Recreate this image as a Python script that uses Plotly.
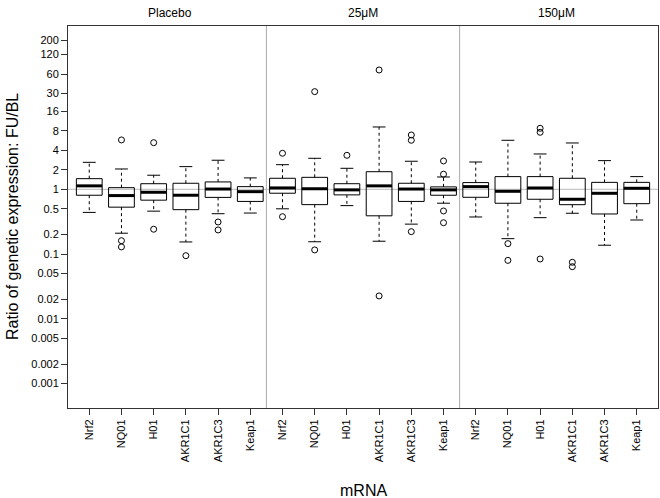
import plotly.graph_objects as go

# ---------------- data ----------------
groups = ["Placebo", "25\u03bcM", "150\u03bcM"]
genes = ["Nrf2", "NQ01", "H01", "AKR1C1", "AKR1C3", "Keap1"]

# Placebo
placebo_lower = [0.44, 0.21, 0.46, 0.154, 0.42, 0.43]
placebo_q1 = [0.81, 0.53, 0.68, 0.485, 0.75, 0.65]
placebo_median = [1.13, 0.80, 0.90, 0.81, 1.01, 0.92]
placebo_q3 = [1.46, 1.06, 1.22, 1.24, 1.30, 1.10]
placebo_upper = [2.61, 2.06, 1.65, 2.24, 2.81, 1.50]
placebo_outliers = [[], [5.78, 0.161, 0.129], [5.25, 0.242], [0.0945], [0.313, 0.236], []]

# 25 uM
low_dose_lower = [0.50, 0.155, 0.56, 0.158, 0.29, 0.61]
low_dose_q1 = [0.87, 0.58, 0.82, 0.39, 0.65, 0.81]
low_dose_median = [1.05, 1.02, 0.98, 1.13, 1.01, 0.98]
low_dose_q3 = [1.48, 1.53, 1.22, 1.87, 1.24, 1.09]
low_dose_upper = [2.40, 3.01, 2.11, 9.17, 2.71, 1.55]
low_dose_outliers = [[3.60, 0.378], [32.2, 0.116], [3.35], [69.5, 0.0226],
                     [6.90, 5.71, 0.222], [2.74, 1.71, 0.463, 0.305]]

# 150 uM
high_dose_lower = [0.374, 0.173, 0.365, 0.427, 0.137, 0.336]
high_dose_q1 = [0.753, 0.609, 0.702, 0.579, 0.416, 0.600]
high_dose_median = [1.10, 0.932, 1.048, 0.702, 0.868, 1.037]
high_dose_q3 = [1.27, 1.57, 1.57, 1.48, 1.28, 1.28]
high_dose_upper = [2.64, 5.71, 3.51, 5.19, 2.77, 1.57]
high_dose_outliers = [[], [0.145, 0.080], [8.75, 7.59, 0.084], [0.0747, 0.0639], [], []]

y_tick_labels = ["200", "120", "60", "30", "16", "8", "4", "2", "1", "0.5", "0.2",
                 "0.1", "0.05", "0.02", "0.01", "0.005", "0.002", "0.001"]

# ---------------- assemble ----------------
stats = [
    (placebo_lower, placebo_q1, placebo_median, placebo_q3, placebo_upper, placebo_outliers),
    (low_dose_lower, low_dose_q1, low_dose_median, low_dose_q3, low_dose_upper, low_dose_outliers),
    (high_dose_lower, high_dose_q1, high_dose_median, high_dose_q3, high_dose_upper, high_dose_outliers),
]

BOX_HALF = 0.4
CAP_HALF = 0.2

box_x, box_y = [], []
med_x, med_y = [], []
wh_x, wh_y = [], []
cap_x, cap_y = [], []
out_x, out_y = [], []
tick_vals, tick_text = [], []

for g, (lo, q1, md, q3, up, outs) in enumerate(stats):
    for j, gene in enumerate(genes):
        x = g * len(genes) + j
        tick_vals.append(x)
        tick_text.append(gene)
        x0, x1 = x - BOX_HALF, x + BOX_HALF
        box_x += [x0, x1, x1, x0, x0, None]
        box_y += [q1[j], q1[j], q3[j], q3[j], q1[j], None]
        med_x += [x0, x1, None]
        med_y += [md[j], md[j], None]
        wh_x += [x, x, None, x, x, None]
        wh_y += [q3[j], up[j], None, q1[j], lo[j], None]
        cap_x += [x - CAP_HALF, x + CAP_HALF, None, x - CAP_HALF, x + CAP_HALF, None]
        cap_y += [up[j], up[j], None, lo[j], lo[j], None]
        for v in outs[j]:
            out_x.append(x)
            out_y.append(v)

n = len(groups) * len(genes)
fig = go.Figure()

fig.add_trace(go.Scatter(x=wh_x, y=wh_y, mode="lines",
                         line=dict(color="black", width=1, dash="3px,3px"),
                         hoverinfo="skip", showlegend=False))
fig.add_trace(go.Scatter(x=cap_x, y=cap_y, mode="lines",
                         line=dict(color="black", width=1),
                         hoverinfo="skip", showlegend=False))
fig.add_trace(go.Scatter(x=box_x, y=box_y, mode="lines",
                         line=dict(color="black", width=1),
                         hoverinfo="skip", showlegend=False))
fig.add_trace(go.Scatter(x=med_x, y=med_y, mode="lines",
                         line=dict(color="black", width=3),
                         hoverinfo="skip", showlegend=False))
fig.add_trace(go.Scatter(x=out_x, y=out_y, mode="markers",
                         marker=dict(symbol="circle-open", size=6, color="black",
                                     line=dict(width=1, color="black")),
                         showlegend=False))

# reference line at ratio 1 and panel dividers
fig.add_shape(type="line", xref="paper", x0=0, x1=1, yref="y", y0=1, y1=1,
              line=dict(color="#bbbbbb", width=1), layer="below")
for g in range(1, len(groups)):
    xd = g * len(genes) - 0.5
    fig.add_shape(type="line", xref="x", x0=xd, x1=xd, yref="paper", y0=0, y1=1,
                  line=dict(color="#aaaaaa", width=1), layer="below")

# panel titles
for g, name in enumerate(groups):
    fig.add_annotation(text=name, xref="x", x=g * len(genes) + (len(genes) - 1) / 2,
                       yref="paper", y=1, yanchor="middle", yshift=13,
                       showarrow=False, font=dict(size=12, color="black"))

# axis titles
fig.add_annotation(text="Ratio of genetic expression: FU/BL", textangle=-90,
                   xref="paper", x=0, xanchor="center", xshift=-56,
                   yref="paper", y=0.5, yanchor="middle",
                   showarrow=False, font=dict(size=16, color="black"))
fig.add_annotation(text="mRNA", xref="paper", x=0.5, xanchor="center",
                   yref="paper", y=0, yanchor="middle", yshift=-82,
                   showarrow=False, font=dict(size=16, color="black"))

tick_numeric = [float(t) for t in y_tick_labels]

fig.update_layout(
    width=660, height=498,
    margin=dict(l=68, r=2, t=26, b=90),
    paper_bgcolor="white", plot_bgcolor="white",
    font=dict(family="Liberation Sans, Arial, sans-serif", color="black", size=11),
    xaxis=dict(range=[-0.66, n - 1 + 0.66], tickmode="array", tickvals=tick_vals,
               ticktext=tick_text, tickangle=-90, ticks="outside", ticklen=6,
               tickcolor="#333", showgrid=False, zeroline=False,
               showline=True, mirror=True, linecolor="#333", linewidth=1,
               tickfont=dict(size=11)),
    yaxis=dict(type="log", range=[-3.376, 2.521], tickmode="array",
               tickvals=tick_numeric, ticktext=y_tick_labels, ticks="outside",
               ticklen=6, tickcolor="#333", showgrid=False, zeroline=False,
               showline=True, mirror=True, linecolor="#333", linewidth=1,
               tickfont=dict(size=11)),
)

fig.write_html(
    "out.html",
    config={"displayModeBar": False},
    post_script="document.body.style.margin='0';document.body.style.overflow='hidden';",
)
